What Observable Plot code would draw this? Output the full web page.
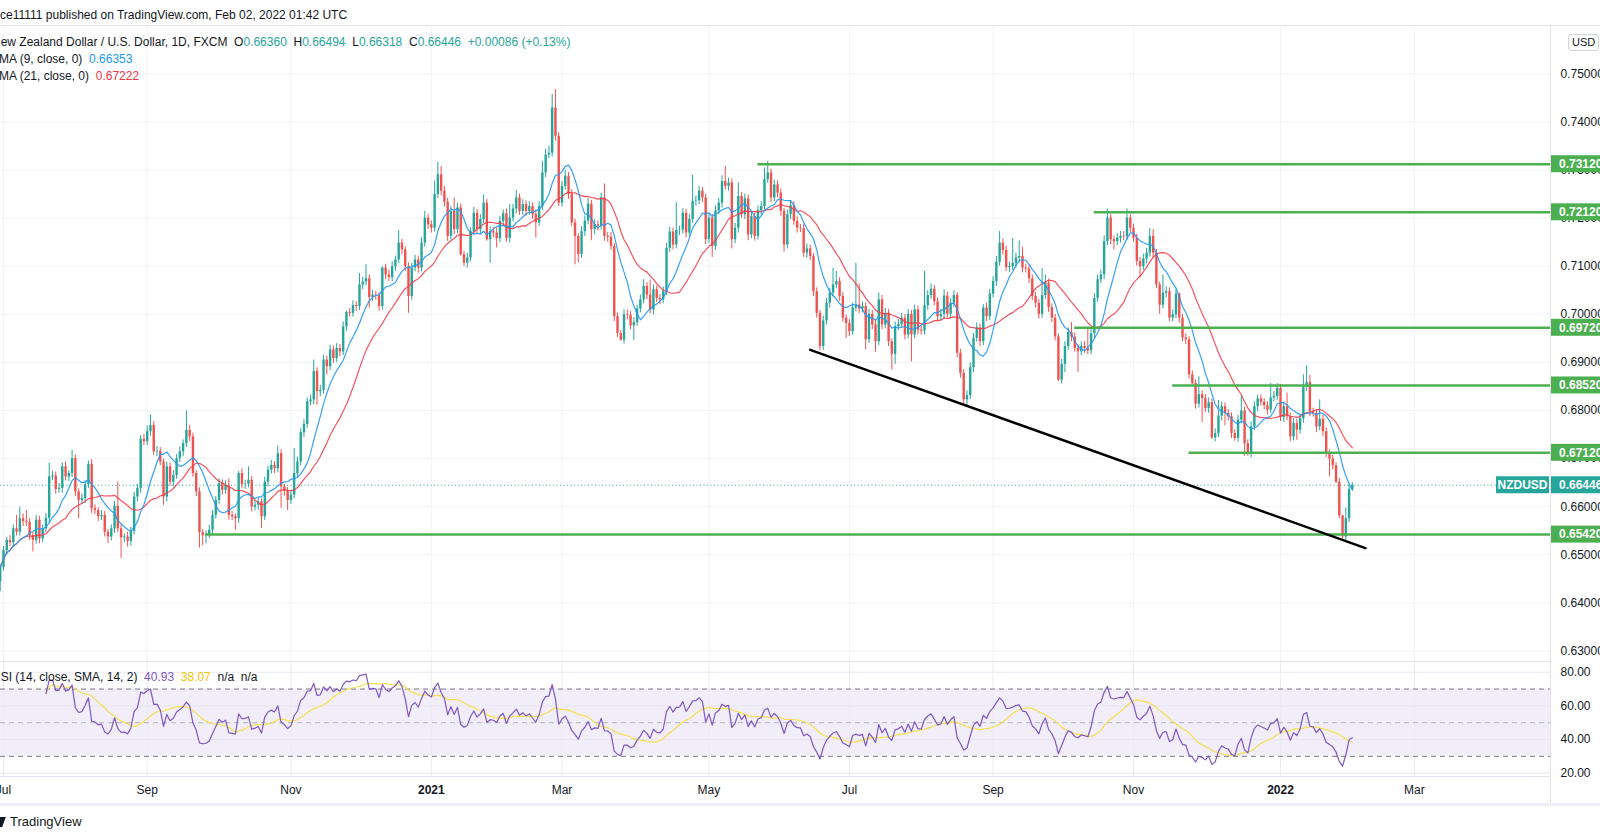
<!DOCTYPE html>
<html><head><meta charset="utf-8">
<script src="https://cdn.jsdelivr.net/npm/d3@7"></script>
<script src="https://cdn.jsdelivr.net/npm/@observablehq/plot@0.6"></script>
<style>
html,body{margin:0;padding:0;background:#fff}
body{width:1600px;height:839px;overflow:hidden;position:relative;font-family:"Liberation Sans",Arial,sans-serif;color:#131722}
#root{position:absolute;left:0;top:0;width:1600px;height:839px}
.t{position:absolute;white-space:nowrap;line-height:16px}
</style></head><body>
<div id="root"></div>
<script>
// ---------------- DATA ----------------
const firstOpen = 0.6444;
const closes = [
0.6474,0.6509,0.6530,0.6525,0.6554,0.6547,0.6575,0.6569,0.6567,0.6540,
0.6530,0.6572,0.6533,0.6554,0.6576,0.6662,0.6664,0.6636,0.6638,0.6683,
0.6662,0.6669,0.6700,0.6631,0.6613,0.6617,0.6646,0.6688,0.6596,0.6592,
0.6579,0.6582,0.6547,0.6537,0.6554,0.6601,0.6554,0.6535,0.6537,0.6528,
0.6549,0.6620,0.6638,0.6740,0.6735,0.6756,0.6769,0.6714,0.6715,0.6693,
0.6620,0.6683,0.6651,0.6665,0.6700,0.6714,0.6731,0.6759,0.6745,0.6669,
0.6631,0.6546,0.6540,0.6542,0.6551,0.6582,0.6613,0.6648,0.6634,0.6644,
0.6582,0.6579,0.6575,0.6669,0.6646,0.6647,0.6655,0.6599,0.6603,0.6610,
0.6579,0.6651,0.6676,0.6686,0.6679,0.6710,0.6641,0.6632,0.6613,0.6624,
0.6669,0.6693,0.6754,0.6771,0.6818,0.6822,0.6881,0.6839,0.6842,0.6905,
0.6891,0.6926,0.6908,0.6929,0.6922,0.6974,0.7004,0.7002,0.7018,0.7016,
0.7061,0.7067,0.7074,0.7035,0.7040,0.7039,0.7016,0.7096,0.7082,0.7076,
0.7099,0.7113,0.7148,0.7134,0.7099,0.7037,0.7096,0.7113,0.7096,0.7148,
0.7200,0.7186,0.7179,0.7249,0.7290,0.7256,0.7233,0.7162,0.7214,0.7176,
0.7221,0.7124,0.7106,0.7117,0.7172,0.7210,0.7176,0.7197,0.7231,0.7155,
0.7172,0.7169,0.7157,0.7193,0.7209,0.7158,0.7200,0.7219,0.7242,0.7214,
0.7228,0.7214,0.7224,0.7207,0.7190,0.7224,0.7294,0.7331,0.7335,0.7429,
0.7370,0.7231,0.7266,0.7287,0.7249,0.7190,0.7162,0.7124,0.7172,0.7194,
0.7229,0.7176,0.7186,0.7183,0.7242,0.7162,0.7160,0.7141,0.6995,0.6960,
0.6946,0.6999,0.6998,0.6976,0.6983,0.7011,0.7030,0.7058,0.7040,0.7009,
0.7051,0.7033,0.7030,0.7047,0.7137,0.7171,0.7144,0.7174,0.7175,0.7210,
0.7169,0.7197,0.7235,0.7236,0.7256,0.7242,0.7155,0.7200,0.7141,0.7215,
0.7231,0.7276,0.7266,0.7273,0.7155,0.7179,0.7245,0.7207,0.7240,0.7165,
0.7203,0.7162,0.7215,0.7224,0.7280,0.7294,0.7242,0.7269,0.7252,0.7214,
0.7144,0.7207,0.7226,0.7193,0.7179,0.7178,0.7127,0.7136,0.7120,0.7047,
0.7002,0.6933,0.6986,0.7023,0.7044,0.7061,0.7068,0.7037,0.6992,0.6981,
0.6964,0.7013,0.7019,0.7011,0.7016,0.6947,0.7000,0.6978,0.6943,0.7030,
0.6978,0.7002,0.6943,0.6917,0.6974,0.6979,0.6992,0.6957,0.7000,0.6957,
0.7009,0.6967,0.6965,0.7018,0.7039,0.7052,0.7026,0.6995,0.7000,0.7038,
0.7000,0.7023,0.7039,0.6919,0.6877,0.6822,0.6831,0.6889,0.6950,0.6972,
0.6943,0.7013,0.6995,0.7042,0.7068,0.7108,0.7148,0.7133,0.7097,0.7099,
0.7106,0.7117,0.7120,0.7096,0.7094,0.7074,0.7037,0.7023,0.7000,0.7039,
0.7065,0.7014,0.6992,0.6953,0.6863,0.6896,0.6933,0.6962,0.6953,0.6929,
0.6922,0.6933,0.6929,0.6924,0.6960,0.7033,0.7072,0.7082,0.7151,0.7200,
0.7155,0.7151,0.7158,0.7162,0.7161,0.7200,0.7179,0.7158,0.7110,0.7099,
0.7115,0.7127,0.7162,0.7127,0.7061,0.7019,0.7044,0.7047,0.6992,0.6999,
0.7042,0.6992,0.6951,0.6947,0.6874,0.6856,0.6813,0.6833,0.6825,0.6804,
0.6816,0.6743,0.6752,0.6788,0.6808,0.6794,0.6787,0.6752,0.6742,0.6780,
0.6799,0.6731,0.6710,0.6766,0.6808,0.6824,0.6817,0.6810,0.6801,0.6826,
0.6829,0.6846,0.6785,0.6808,0.6787,0.6745,0.6773,0.6759,0.6783,0.6848,
0.6858,0.6797,0.6794,0.6766,0.6782,0.6756,0.6710,0.6699,0.6685,0.6651,
0.6581,0.6537,0.6575,0.6636,0.66446
];
const wickUpPips = [
4,8,6,10,8,28,24,10,23,8,
6,10,8,8,10,28,10,8,10,8,
10,6,17,8,6,10,8,7,10,8,
6,10,8,6,8,10,50,8,6,10,
8,10,8,8,10,12,21,8,10,8,
6,10,8,10,8,10,8,40,10,8,
6,8,6,8,10,10,8,10,8,10,
14,8,6,4,10,8,28,8,10,8,
6,10,8,10,8,16,8,6,8,10,
52,10,8,10,8,10,24,8,10,10,
8,10,8,10,8,10,3,8,10,8,
24,10,29,8,10,8,6,3,8,10,
10,8,26,8,6,8,10,10,8,12,
14,8,8,28,26,17,10,8,10,28,
10,8,6,10,8,12,8,10,17,8,
10,8,10,10,8,10,28,10,15,8,
10,8,10,8,10,10,24,12,14,28,
38,8,10,12,8,10,8,6,10,10,
12,8,10,8,10,29,8,10,6,8,
6,10,10,8,10,8,10,14,8,31,
10,8,8,10,10,10,8,58,8,10,
8,10,54,10,10,8,8,10,8,10,
10,12,31,10,8,10,28,8,10,8,
10,8,10,10,24,24,8,10,8,8,
6,10,10,8,10,8,8,10,8,6,
8,6,10,10,10,35,21,8,8,6,
8,10,87,44,10,8,10,8,10,14,
9,10,8,6,10,10,10,8,10,8,
10,8,8,71,10,11,8,8,10,13,
8,10,10,6,8,8,10,10,10,10,
8,7,10,10,10,12,24,9,8,10,
52,10,33,19,8,8,8,8,8,56,
17,8,8,8,6,10,10,10,21,8,
8,10,10,42,10,10,10,10,12,19,
8,8,10,10,10,19,8,8,8,8,
10,10,16,14,8,6,38,10,8,10,
10,2,8,8,6,8,8,37,8,8,
10,8,10,33,10,8,8,8,8,10,
33,8,8,10,10,8,8,8,8,30,
10,10,8,10,28,8,10,8,10,26,
35,15,8,8,40,8,8,8,8,6,
8,1,22,10,5
];
const wickDownPips = [
21,8,10,8,10,8,8,10,8,10,
24,8,10,8,8,10,8,10,8,10,
8,10,8,10,38,8,10,8,10,8,
10,8,10,14,8,10,8,43,10,12,
10,8,10,10,8,8,10,8,10,8,
17,10,8,10,8,8,10,8,10,8,
10,32,21,17,8,10,8,8,10,8,
10,8,24,10,8,10,8,10,8,10,
24,8,10,8,10,8,44,10,21,8,
8,10,8,10,8,8,10,28,10,8,
17,8,10,8,10,8,10,8,8,10,
8,10,8,22,8,10,10,8,10,8,
8,10,8,10,10,35,8,8,10,8,
8,10,10,8,8,10,10,10,8,10,
8,3,7,10,8,8,10,8,8,3,
49,10,19,8,10,8,10,8,10,8,
8,10,8,10,31,8,8,10,8,8,
10,7,8,8,10,8,59,17,8,10,
8,23,10,10,8,10,10,8,10,8,
2,8,10,8,30,8,8,8,10,8,
10,8,10,8,8,8,10,8,10,8,
10,8,8,10,8,10,10,8,23,8,
8,10,8,10,19,8,10,8,10,12,
8,10,8,10,8,8,10,8,10,10,
15,8,10,8,10,8,9,10,8,10,
10,9,8,8,10,8,8,10,8,31,
10,8,8,10,8,21,8,10,22,8,
10,8,10,33,21,8,8,10,8,56,
8,10,8,8,10,8,8,10,8,10,
8,10,8,10,10,10,12,8,10,8,
10,8,10,8,8,10,8,10,8,10,
8,10,8,10,8,10,8,10,10,8,
8,10,10,8,3,8,17,8,10,8,
43,8,10,8,8,10,8,8,10,8,
10,17,8,10,8,8,10,8,10,24,
8,10,8,10,8,19,8,10,7,8,
8,10,8,10,8,3,10,8,50,8,
10,3,8,8,10,26,8,10,6,8,
8,26,5,8,8,10,8,8,10,8,
8,8,8,10,8,10,8,21,8,10,
8,10,8,12,8,10,8,37,8,3,
6,5,8,8,4
];
const firstBarDate = "2020-06-30";
const lastAxisDate = "2022-03-31";
const closedDays = ["2020-12-25", "2021-01-01"];
const levels = [0.7312, 0.7212, 0.6972, 0.6852, 0.6712, 0.6542];
const levelStart = ["2021-05-24", "2021-10-14", "2021-10-06", "2021-11-17", "2021-11-24", "2020-09-25"];
const trendDates = ["2021-06-15", "2022-02-08"];
const trendPrices = [0.6926, 0.6514];
const priceTicks = [0.63,0.64,0.65,0.66,0.67,0.68,0.69,0.70,0.71,0.72,0.73,0.74,0.75];
const rsiTicks = [20, 40, 60, 80];
const rsiBands = [30, 50, 70];
const tickMonths = ["2020-07","2020-09","2020-11","2021-01","2021-03","2021-05","2021-07","2021-09","2021-11","2022-01","2022-03"];
const tickLabels = ["Jul","Sep","Nov","2021","Mar","May","Jul","Sep","Nov","2022","Mar"];
const lastClose = 0.66446;
const legendOHLC = {O:"0.66360", H:"0.66494", L:"0.66318", C:"0.66446", chg:"+0.00086 (+0.13%)"};
const sma9Label = "0.66353", sma21Label = "0.67222";
const rsiLabel = "40.93", rsiMaLabel = "38.07";

// ---------------- BUILD ----------------
const FONT = '"Liberation Sans", Arial, sans-serif';
const UP = "#26a69a", DOWN = "#ef5350";
const closed = new Set(closedDays);
const allDates = [];
for (let t = Date.parse(firstBarDate + "T00:00:00Z"); t <= Date.parse(lastAxisDate + "T00:00:00Z"); t += 864e5) {
  const d = new Date(t), wd = d.getUTCDay(), s = d.toISOString().slice(0, 10);
  if (wd === 0 || wd === 6 || closed.has(s)) continue;
  allDates.push(s);
}
const idxOf = s => { const k = allDates.findIndex(d => d >= s); return k < 0 ? allDates.length : k; };
const ticks = tickMonths.map((m, j) => ({i: allDates.findIndex(d => d.startsWith(m)), label: tickLabels[j], year: /^\d{4}$/.test(tickLabels[j])}));

const bars = closes.map((c, i) => {
  const o = i ? closes[i - 1] : firstOpen;
  return {i, o, c, h: Math.max(o, c) + wickUpPips[i] / 1e4, l: Math.min(o, c) - wickDownPips[i] / 1e4, col: c >= o ? UP : DOWN};
});
function sma(arr, n) {
  return arr.map((_, i) => { const w = arr.slice(Math.max(0, i - n + 1), i + 1).filter(v => v != null); return w.length ? d3.mean(w) : null; });
}
function rsiCalc(cl, n) {
  const out = []; let ag = 0, al = 0;
  for (let i = 0; i < cl.length; i++) {
    if (i === 0) { out.push(null); continue; }
    const ch = cl[i] - cl[i - 1], g = Math.max(ch, 0), l = Math.max(-ch, 0);
    if (i <= n) { ag += g / n; al += l / n; }
    else { ag = (ag * (n - 1) + g) / n; al = (al * (n - 1) + l) / n; }
    out.push(i < n ? null : (al === 0 ? 100 : 100 - 100 / (1 + ag / al)));
  }
  return out;
}
const sma9 = sma(closes, 9).map((v, i) => ({i, v}));
const sma21 = sma(closes, 21).map((v, i) => ({i, v}));
const rsi = rsiCalc(closes, 14);
const rsiMa = sma(rsi, 14).map((v, i) => rsi[i] == null ? null : v);
const rsiData = rsi.map((v, i) => ({i, v})).filter(d => d.v != null);
const rsiMaData = rsiMa.map((v, i) => ({i, v})).filter(d => d.v != null);
const levelData = levels.map((p, j) => ({p, start: idxOf(levelStart[j])}));
const trendData = trendDates.map((d, j) => ({i: idxOf(d), p: trendPrices[j]}));

const xDomain = [0.083, 474.67];
const priceDomain = [0.62782, 0.75983];
const rsiDomain = [18.04, 86.36];
const root = document.getElementById("root");
function put(el, left, top) { el.style.position = "absolute"; el.style.left = left + "px"; el.style.top = top + "px"; root.appendChild(el); return el; }
function div(html, left, top, style) { const e = document.createElement("div"); e.className = "t"; e.innerHTML = html; if (style) e.style.cssText += style; return put(e, left, top); }

// price panel
const priceChart = Plot.plot({
  width: 1600, height: 635, marginTop: 0, marginBottom: 0, marginLeft: 0, marginRight: 50,
  x: {domain: xDomain, axis: null}, y: {domain: priceDomain, axis: null}, color: {type: "identity"},
  style: {background: "transparent", fontFamily: FONT, fontSize: "12px", overflow: "visible"},
  marks: [
    Plot.ruleY(priceTicks, {stroke: "#f0f3fa", strokeWidth: 1}),
    Plot.ruleX(ticks, {x: "i", stroke: "#f0f3fa", strokeWidth: 1}),
    Plot.ruleY([lastClose], {stroke: "#26a69a", strokeDasharray: "1,2.5", strokeWidth: 1}),
    Plot.ruleX(bars, {x: "i", y1: "l", y2: "h", stroke: "col", strokeWidth: 1}),
    Plot.ruleX(bars, {x: "i", y1: "o", y2: "c", stroke: "col", strokeWidth: 2.4}),
    Plot.line(sma21, {x: "i", y: "v", stroke: "#f23645", strokeOpacity: 0.85, strokeWidth: 1.2}),
    Plot.line(sma9, {x: "i", y: "v", stroke: "#2196f3", strokeOpacity: 0.9, strokeWidth: 1.2}),
    Plot.ruleY(levelData, {y: "p", x1: "start", x2: () => xDomain[1], stroke: "#4caf50", strokeWidth: 2.5}),
    Plot.line(trendData, {x: "i", y: "p", stroke: "#000", strokeWidth: 2.5}),
    Plot.text(priceTicks, {x: () => xDomain[1], y: d => d, text: d => d.toFixed(5), dx: 10, textAnchor: "start", fill: "#131722", fontSize: 12})
  ]
});
put(priceChart, 0, 26);
const ys = priceChart.scale("y");
const sel = d3.select(priceChart);
function tag(x, w, v, label, color) {
  const y = ys.apply(v);
  sel.append("rect").attr("x", x).attr("y", y - 8.5).attr("width", w).attr("height", 17).attr("fill", color);
  sel.append("text").attr("x", x + (label === "NZDUSD" ? w / 2 : 9)).attr("y", y).attr("dy", "0.36em")
    .attr("text-anchor", label === "NZDUSD" ? "middle" : "start").attr("fill", "#fff").attr("font-size", 12).attr("font-weight", 700).attr("font-family", FONT).text(label);
}
levels.forEach(v => tag(1550, 50, v, v.toFixed(5), "#4caf50"));
tag(1496, 53, lastClose, "NZDUSD", "#26a69a");
tag(1550, 50, lastClose, lastClose.toFixed(5), "#26a69a");

// RSI panel + time axis
const rsiChart = Plot.plot({
  width: 1600, height: 142, marginTop: 0, marginBottom: 27, marginLeft: 0, marginRight: 50,
  x: {domain: xDomain, axis: null}, y: {domain: rsiDomain, axis: null},
  style: {background: "transparent", fontFamily: FONT, fontSize: "12px", overflow: "visible"},
  marks: [
    Plot.rect([rsiBands], {x1: () => xDomain[0] - 1, x2: () => xDomain[1], y1: d => d[0], y2: d => d[2], fill: "#7e57c2", fillOpacity: 0.1}),
    Plot.ruleY(rsiTicks, {stroke: "#e9e6f2", strokeWidth: 1}),
    Plot.ruleX(ticks, {x: "i", y1: rsiDomain[0], y2: rsiDomain[1], stroke: "#eceaf3", strokeWidth: 1}),
    Plot.ruleY([rsiBands[0], rsiBands[2]], {stroke: "#787b86", strokeDasharray: "5,4", strokeWidth: 1}),
    Plot.ruleY([rsiBands[1]], {stroke: "#b2b5be", strokeDasharray: "5,4", strokeWidth: 1}),
    Plot.line(rsiMaData, {x: "i", y: "v", stroke: "#f5df4d", strokeWidth: 1.2, clip: true}),
    Plot.line(rsiData, {x: "i", y: "v", stroke: "#7e57c2", strokeWidth: 1.2, clip: true}),
    Plot.text(rsiTicks, {x: () => xDomain[1], y: d => d, text: d => d.toFixed(2), dx: 10, textAnchor: "start", fill: "#131722", fontSize: 12}),
    Plot.text(ticks.filter(d => !d.year), {x: "i", y: () => rsiDomain[0], text: "label", dy: 14, fill: "#131722", fontSize: 12}),
    Plot.text(ticks.filter(d => d.year), {x: "i", y: () => rsiDomain[0], text: "label", dy: 14, fill: "#131722", fontSize: 12, fontWeight: "bold"})
  ]
});
put(rsiChart, 0, 661);

// frame lines
function line(l, t, w, h, c) { const e = document.createElement("div"); e.style.cssText = `width:${w}px;height:${h}px;background:${c}`; put(e, l, t); }
line(0, 25, 1600, 1, "#e0e3eb");
line(0, 661, 1550, 1, "#e0e3eb");
line(0, 776, 1550, 1, "#e0e3eb");
line(1550, 25, 1, 778, "#e0e3eb");
line(0, 803, 1600, 3, "#eef0f5");

// header & legends
div("ce11111 published on TradingView.com, Feb 02, 2022 01:42 UTC", 0, 7, "font-size:12px");
const G = s => `<span style="color:#26a69a">${s}</span>`;
div(`New Zealand Dollar / U.S. Dollar, 1D, FXCM&nbsp;&nbsp;O${G(legendOHLC.O)}&nbsp;&nbsp;H${G(legendOHLC.H)}&nbsp;&nbsp;L${G(legendOHLC.L)}&nbsp;&nbsp;C${G(legendOHLC.C)}&nbsp;&nbsp;${G(legendOHLC.chg)}`, -8, 34, "font-size:12px");
div(`SMA (9, close, 0)&nbsp;&nbsp;<span style="color:#2196f3">${sma9Label}</span>`, -9, 51, "font-size:12px");
div(`SMA (21, close, 0)&nbsp;&nbsp;<span style="color:#f23645">${sma21Label}</span>`, -9, 68, "font-size:12px");
div(`RSI (14, close, SMA, 14, 2)&nbsp;&nbsp;<span style="color:#7e57c2">${rsiLabel}</span>&nbsp;&nbsp;<span style="color:#f0c808">${rsiMaLabel}</span>&nbsp;&nbsp;n/a&nbsp;&nbsp;n/a`, -8, 669, "font-size:12px");
div("USD", 1568, 34, "font-size:11px;border:1px solid #d1d4dc;border-radius:3px;padding:0 3px;line-height:15px;color:#131722");
div('<span style="display:inline-block;width:6px;height:10px;background:#131722;transform:skewX(-20deg);margin-right:6px;vertical-align:-1px"></span>TradingView', -2, 814, "font-size:13px");
</script>
</body></html>
